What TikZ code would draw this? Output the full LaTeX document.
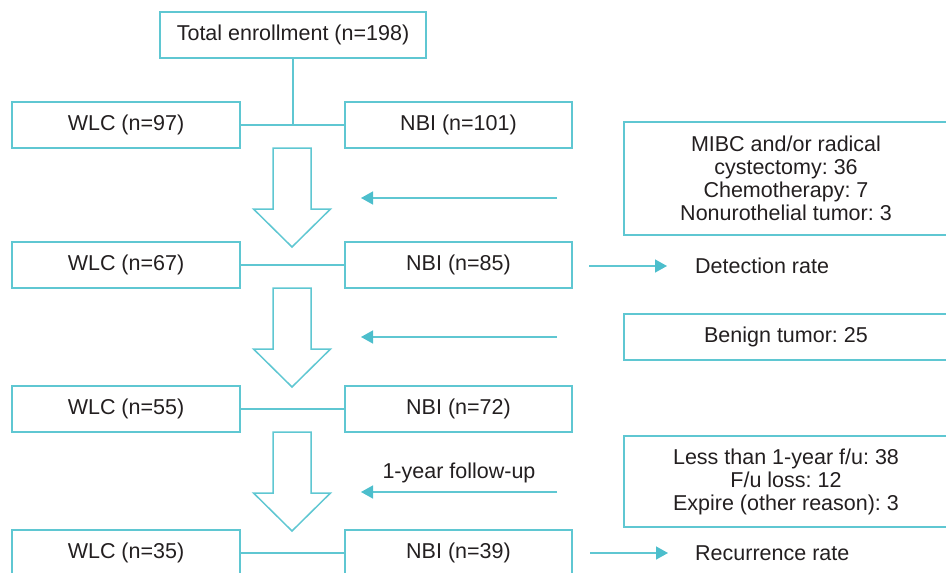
\documentclass[tikz,border=0pt]{standalone}
\usepackage{fontspec}
\setmainfont{Liberation Sans}
\usetikzlibrary{arrows.meta}
\definecolor{cy}{RGB}{95,199,210}
\definecolor{cyd}{RGB}{76,190,204}
\definecolor{tx}{RGB}{35,31,32}
\frenchspacing
\begin{document}
\begin{tikzpicture}[x=1pt,y=-1pt,
  box/.style={draw=cy,line width=1.5pt,minimum height=46pt,inner sep=0pt,text=tx,
    font=\fontsize{21.5}{23}\selectfont,align=center},
  lbl/.style={text=tx,font=\fontsize{21.5}{23}\selectfont,inner sep=0pt},
  conn/.style={draw=cy,line width=1.5pt},
  thinarrow/.style={draw=cy,line width=1.5pt,-{Triangle[length=12pt,width=13pt,fill=cyd,color=cyd]}},
  harrow/.pic={\draw[cy,line width=1.5pt,line join=miter,fill=white]
     (-19,0) -- (-19,61) -- (-38.5,61) -- (0,99) -- (38.5,61) -- (19,61) -- (19,0) -- cycle;}
]
\useasboundingbox (0,0) rectangle (946,573);
\clip (0,0) rectangle (946,573);

% main column
\node[box,minimum width=266pt] (tot) at (293,35) {Total enrollment (n=198)};
\node[box,minimum width=228pt] (w1) at (126,125) {WLC (n=97)};
\node[box,minimum width=227pt] (n1) at (458.5,125) {NBI (n=101)};
\node[box,minimum width=228pt] (w2) at (126,265) {WLC (n=67)};
\node[box,minimum width=227pt] (n2) at (458.5,265) {NBI (n=85)};
\node[box,minimum width=228pt] (w3) at (126,409) {WLC (n=55)};
\node[box,minimum width=227pt] (n3) at (458.5,409) {NBI (n=72)};
\node[box,minimum width=228pt] (w4) at (126,553) {WLC (n=35)};
\node[box,minimum width=227pt] (n4) at (458.5,553) {NBI (n=39)};

% connectors
\coordinate (j1) at (293,125);
\draw[conn] (tot.south) -- (j1);
\draw[conn] (w1.east) -- (n1.west);
\draw[conn] (w2.east) -- (n2.west);
\draw[conn] (w3.east) -- (n3.west);
\draw[conn] (w4.east) -- (n4.west);

% hollow arrows
\pic at (292,148) {harrow};
\pic at (292,288) {harrow};
\pic at (292,432) {harrow};

% right boxes
\node[box,minimum width=324pt,minimum height=113pt] (ex1) at (786,178.5)
  {MIBC and/or radical\\cystectomy: 36\\Chemotherapy: 7\\Nonurothelial tumor: 3};
\node[box,minimum width=324pt,minimum height=46pt] (ex2) at (786,337) {Benign tumor: 25};
\node[box,minimum width=324pt,minimum height=91pt] (ex3) at (786,481.5)
  {Less than 1-year f/u: 38\\F/u loss: 12\\Expire (other reason): 3};

% exclusion arrows
\coordinate (e1s) at (557,198); \coordinate (e1e) at (361,198);
\coordinate (e2s) at (557,337); \coordinate (e2e) at (361,337);
\coordinate (e3s) at (557,492); \coordinate (e3e) at (361,492);
\draw[thinarrow] (e1s) -- (e1e);
\draw[thinarrow] (e2s) -- (e2e);
\draw[thinarrow] (e3s) -- (e3e);
\node[lbl] (fu) at (459,473) {1-year follow-up};

% outcome arrows
\node[lbl,anchor=west] (det) at (695,266) {Detection rate};
\node[lbl,anchor=west] (rec) at (695,553) {Recurrence rate};
\coordinate (d1) at (589,266);
\coordinate (r1) at (590,553);
\draw[thinarrow] (d1) -- (det.west -| 667,0);
\draw[thinarrow] (r1) -- (rec.west -| 668,0);
\end{tikzpicture}
\end{document}
